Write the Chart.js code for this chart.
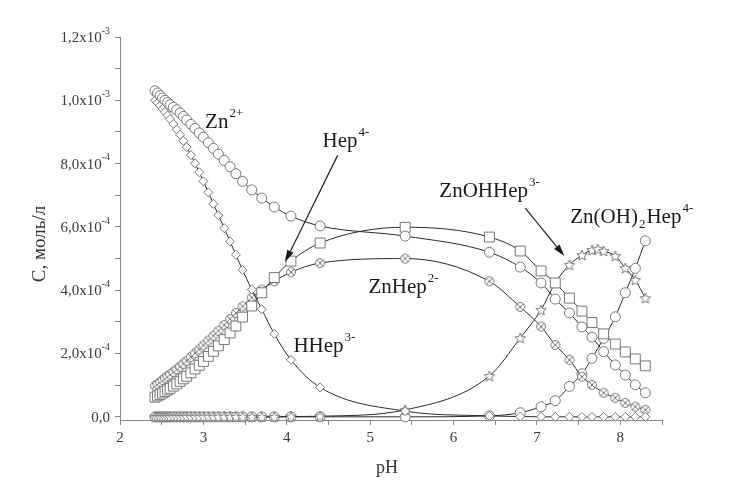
<!DOCTYPE html>
<html>
<head>
<meta charset="utf-8">
<script src="https://cdn.jsdelivr.net/npm/chart.js@4/dist/chart.umd.min.js"></script>
<style>
  html, body { margin: 0; padding: 0; background: #fff; }
</style>
</head>
<body>
<canvas id="myChart" width="732" height="489"></canvas>
<script>
'use strict';

// pH points (x)
let pH = [2.42, 2.45, 2.48, 2.51, 2.54, 2.57, 2.60, 2.64, 2.68, 2.72, 2.76, 2.80, 2.85, 2.90, 2.95, 3.00,
  3.06, 3.12, 3.18, 3.25, 3.32, 3.39, 3.47, 3.58, 3.70, 3.85, 4.05, 4.40, 5.42, 6.43,
  6.80, 7.05, 7.22, 7.39, 7.54, 7.66, 7.73, 7.80, 7.94, 8.06, 8.18, 8.30];

// concentrations, in 10^-4 mol/l
let zn = [10.30, 10.23, 10.15, 10.07, 10.00, 9.93, 9.86, 9.78, 9.70, 9.60, 9.49, 9.38, 9.24, 9.11, 8.97, 8.83,
  8.66, 8.48, 8.30, 8.10, 7.90, 7.68, 7.44, 7.17, 6.91, 6.63, 6.34, 6.03, 5.71, 5.20,
  4.73, 4.23, 3.72, 3.28, 2.84, 2.52, null, 2.06, 1.64, 1.32, 1.01, 0.76];
let hhep = [10.00, 9.92, 9.83, 9.73, 9.63, 9.52, 9.41, 9.25, 9.08, 8.91, 8.72, 8.52, 8.27, 8.01, 7.73, 7.44,
  7.09, 6.73, 6.37, 5.96, 5.54, 5.12, 4.64, 4.02, 3.40, 2.62, 1.80, 0.93, 0.18, 0.03,
  0.01, 0, 0, 0, 0, 0, null, 0, 0, 0, 0, 0];
let hep = [0.62, 0.66, 0.70, 0.75, 0.80, 0.85, 0.90, 0.97, 1.04, 1.12, 1.20, 1.28, 1.39, 1.51, 1.63, 1.75,
  1.91, 2.07, 2.24, 2.44, 2.65, 2.87, 3.15, 3.50, 3.92, 4.40, 4.92, 5.49, 5.99, 5.68,
  5.24, 4.61, 4.23, 3.75, 3.34, 2.98, null, 2.62, 2.30, 2.05, 1.83, 1.61];
let znhep = [0.98, 1.04, 1.10, 1.16, 1.22, 1.28, 1.34, 1.42, 1.50, 1.59, 1.68, 1.77, 1.89, 2.01, 2.13, 2.26,
  2.41, 2.56, 2.72, 2.90, 3.09, 3.28, 3.49, 3.77, 4.02, 4.28, 4.57, 4.86, 5.00, 4.28,
  3.47, 2.85, 2.27, 1.80, 1.27, 1.01, null, 0.76, 0.60, 0.44, 0.32, 0.22];
let znohhep = [0, 0, 0, 0, 0, 0, 0, 0, 0, 0, 0, 0, 0, 0, 0, 0,
  0, 0, 0, 0, 0, 0, 0, 0, 0, 0, 0.01, 0.02, 0.22, 1.29,
  2.49, 3.38, 4.23, 4.80, 5.11, 5.27, 5.30, 5.24, 5.08, 4.70, 4.32, 3.75];
let znoh2hep = [0, 0, 0, 0, 0, 0, 0, 0, 0, 0, 0, 0, 0, 0, 0, 0,
  0, 0, 0, 0, 0, 0, 0, 0, 0, 0, 0, 0, 0, 0.03,
  0.13, 0.32, 0.51, 0.96, 1.36, 1.85, null, 2.48, 3.16, 3.92, 4.69, 5.56];

// labels on the plot: pieces of text, and where they sit (pH, C)
let labelParts = [
  [['Zn', 0], ['2+', 1]],
  [['Hep', 0], ['4-', 1]],
  [['ZnHep', 0], ['2-', 1]],
  [['HHep', 0], ['3-', 1]],
  [['ZnOHHep', 0], ['3-', 1]],
  [['Zn(OH)', 0], ['2', -1], ['Hep', 0], ['4-', 1]]
];
let labelX = [3.02, 4.43, 4.98, 4.08, 5.83, 7.40];
let labelY = [9.12, 8.52, 3.91, 2.05, 6.94, 6.12];

// arrows: from -> to
let arrowFrom = [[4.61, 8.26], [6.86, 6.59]];
let arrowTo = [[3.98, 4.89], [7.33, 5.08]];

let yTickText = ['0,0', '2,0x10', '4,0x10', '6,0x10', '8,0x10', '1,0x10', '1,2x10'];

const SERIF = '"Liberation Serif", "Times New Roman", serif';
const MARK = '#777';

function makeCircleX(r) {
  let c = document.createElement('canvas');
  let s = 2 * r + 3;
  c.width = s; c.height = s;
  let g = c.getContext('2d');
  let m = s / 2;
  g.fillStyle = '#fff';
  g.strokeStyle = MARK;
  g.lineWidth = 1;
  g.beginPath();
  g.arc(m, m, r, 0, 2 * Math.PI);
  g.fill();
  g.stroke();
  let d = r * 0.7;
  g.beginPath();
  g.moveTo(m - d, m - d); g.lineTo(m + d, m + d);
  g.moveTo(m + d, m - d); g.lineTo(m - d, m + d);
  g.stroke();
  return c;
}

function makeStar(r) {
  let c = document.createElement('canvas');
  let s = 2 * r + 3;
  c.width = s; c.height = s;
  let g = c.getContext('2d');
  let m = s / 2;
  g.fillStyle = '#fff';
  g.strokeStyle = MARK;
  g.lineWidth = 1;
  g.beginPath();
  for (let i = 0; i < 10; i++) {
    let rr = i % 2 === 0 ? r : r * 0.45;
    let a = -Math.PI / 2 + i * Math.PI / 5;
    let px = m + rr * Math.cos(a);
    let py = m + 0.5 + rr * Math.sin(a);
    if (i === 0) g.moveTo(px, py); else g.lineTo(px, py);
  }
  g.closePath();
  g.fill();
  g.stroke();
  return c;
}

function points(values) {
  return pH.map((p, i) => ({ x: p, y: values[i] }));
}

function series(label, values, style, radius) {
  return {
    label: label,
    data: points(values),
    borderColor: '#2a2a2a',
    borderWidth: 1,
    pointStyle: style,
    pointRadius: radius,
    pointHoverRadius: radius,
    pointBorderColor: MARK,
    pointBackgroundColor: '#fff',
    pointBorderWidth: 1,
    cubicInterpolationMode: 'monotone',
    spanGaps: true,
    fill: false,
    clip: 10
  };
}

let annotations = {
  id: 'annotations',
  afterDatasetsDraw(chart) {
    let ctx = chart.ctx;
    let xs = chart.scales.x;
    let ys = chart.scales.y;
    ctx.save();
    ctx.fillStyle = '#1a1a1a';
    ctx.textBaseline = 'alphabetic';
    ctx.textAlign = 'left';
    for (let i = 0; i < labelParts.length; i++) {
      let px = xs.getPixelForValue(labelX[i]);
      let py = ys.getPixelForValue(labelY[i]);
      for (let part of labelParts[i]) {
        let kind = part[1];
        ctx.font = (kind === 0 ? '21px ' : '13px ') + SERIF;
        let dy = kind === 1 ? -11 : (kind === -1 ? 5 : 0);
        ctx.fillText(part[0], px, py + dy);
        px += ctx.measureText(part[0]).width + (kind === 1 ? 0 : 1);
      }
    }
    ctx.strokeStyle = '#222';
    ctx.lineWidth = 1.2;
    for (let i = 0; i < arrowFrom.length; i++) {
      let x1 = xs.getPixelForValue(arrowFrom[i][0]);
      let y1 = ys.getPixelForValue(arrowFrom[i][1]);
      let x2 = xs.getPixelForValue(arrowTo[i][0]);
      let y2 = ys.getPixelForValue(arrowTo[i][1]);
      let a = Math.atan2(y2 - y1, x2 - x1);
      let len = 12, half = 3.5;
      let bx = x2 - len * Math.cos(a);
      let by = y2 - len * Math.sin(a);
      ctx.beginPath();
      ctx.moveTo(x1, y1);
      ctx.lineTo(bx, by);
      ctx.stroke();
      ctx.beginPath();
      ctx.moveTo(x2, y2);
      ctx.lineTo(bx + half * Math.sin(a), by - half * Math.cos(a));
      ctx.lineTo(bx - half * Math.sin(a), by + half * Math.cos(a));
      ctx.closePath();
      ctx.fill();
    }
    ctx.restore();
  }
};

// y tick labels with raised exponent, and the axis titles
let axisText = {
  id: 'axisText',
  afterDraw(chart) {
    let ctx = chart.ctx;
    let ys = chart.scales.y;
    let area = chart.chartArea;
    let x0 = area.left - 10;
    ctx.save();
    ctx.fillStyle = '#3a3a3a';
    ctx.textBaseline = 'middle';
    ctx.textAlign = 'right';
    for (let k = 0; k < yTickText.length; k++) {
      let v = k * 2;
      let y = ys.getPixelForValue(v);
      let exp = v === 0 ? '' : (v >= 10 ? '-3' : '-4');
      ctx.font = '10px ' + SERIF;
      let ew = exp ? ctx.measureText(exp).width : 0;
      if (exp) ctx.fillText(exp, x0, y - 6);
      ctx.font = '15px ' + SERIF;
      ctx.fillText(yTickText[k], x0 - ew, y + 1);
    }
    ctx.fillStyle = '#333';
    ctx.textAlign = 'center';
    ctx.font = '18px ' + SERIF;
    ctx.fillText('pH', (area.left + area.right) / 2 - 4, area.bottom + 48);
    ctx.translate(40, 244);
    ctx.rotate(-Math.PI / 2);
    ctx.font = '19px ' + SERIF;
    ctx.fillText('C, моль/л', 0, 0);
    ctx.restore();
  }
};

let ctx = document.getElementById('myChart').getContext('2d');
let myChart = new Chart(ctx, {
  type: 'line',
  data: {
    datasets: [
      series('Zn2+', zn, 'circle', 5),
      series('HHep3-', hhep, 'rectRot', 4.5),
      series('Hep4-', hep, 'rect', 7),
      series('ZnHep2-', znhep, makeCircleX(4.5), 5),
      series('ZnOHHep3-', znohhep, makeStar(5.5), 5),
      series('Zn(OH)2Hep4-', znoh2hep, 'circle', 5)
    ]
  },
  options: {
    responsive: false,
    devicePixelRatio: 1,
    animation: false,
    events: [],
    layout: { padding: { left: 0, top: 37, right: 70, bottom: 0 } },
    plugins: {
      legend: { display: false },
      tooltip: { enabled: false }
    },
    scales: {
      x: {
        type: 'linear',
        min: 2,
        max: 8.5,
        afterFit(scale) { scale.height = 69; },
        border: { color: '#888', width: 1 },
        grid: { drawOnChartArea: false, drawTicks: true, tickLength: 5, color: '#888' },
        ticks: {
          stepSize: 0.5,
          autoSkip: false,
          maxRotation: 0,
          includeBounds: false,
          padding: 4,
          color: '#3a3a3a',
          font: { family: SERIF, size: 15 },
          callback: (v) => Number.isInteger(v) ? String(v) : ''
        }
      },
      y: {
        type: 'linear',
        min: -0.1,
        max: 12,
        afterFit(scale) { scale.width = 120; },
        border: { color: '#888', width: 1 },
        grid: { drawOnChartArea: false, drawTicks: true, tickLength: 5, color: '#888' },
        ticks: {
          stepSize: 1,
          autoSkip: false,
          includeBounds: false,
          color: 'rgba(0,0,0,0)',
          font: { family: SERIF, size: 15 },
          callback: () => ''
        }
      }
    }
  },
  plugins: [annotations, axisText]
});
</script>
</body>
</html>
